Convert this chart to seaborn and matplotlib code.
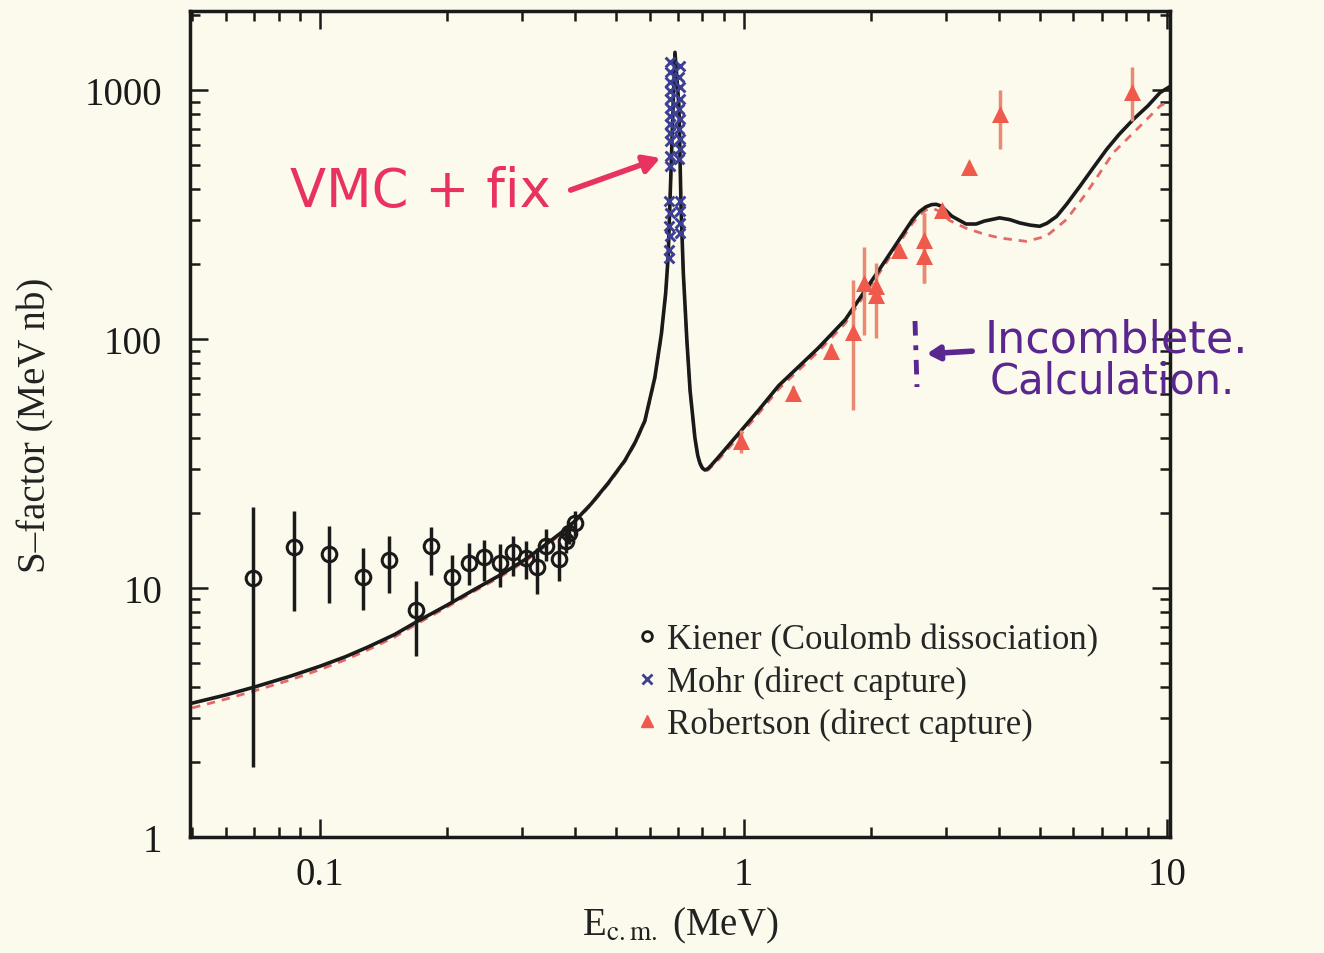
import numpy as np
import seaborn as sns
import matplotlib.pyplot as plt
from matplotlib.lines import Line2D

# theory curves
calc_e = [0.05, 0.06, 0.07, 0.085, 0.10, 0.115, 0.13, 0.15, 0.17, 0.20, 0.23, 0.267, 0.307,
          0.342, 0.38, 0.40, 0.437, 0.48, 0.5245, 0.555, 0.585, 0.6175, 0.64, 0.655,
          0.664, 0.674, 0.682, 0.689, 0.704, 0.712, 0.721, 0.735, 0.748, 0.768, 0.78, 0.789,
          0.80, 0.811, 0.825, 0.84, 0.873, 0.973, 1.085, 1.21, 1.50, 1.74, 2.09, 2.33, 2.505,
          2.60, 2.695, 2.78, 2.85, 2.93, 3.10, 3.35, 3.54, 3.70, 4.02, 4.25, 4.485, 4.75, 5.0,
          5.2, 5.48, 5.8, 6.22, 6.7, 7.19, 7.7, 8.32, 9.0, 9.62, 10.2]
calc_s = [3.45, 3.72, 4.0, 4.42, 4.85, 5.3, 5.8, 6.5, 7.35, 8.55, 9.8, 11.3, 13.1,
          15.0, 17.2, 18.6, 21.8, 26.5, 32.5, 38.5, 47, 70, 105, 153,
          215, 466, 865, 1419, 865, 342, 184, 99, 62, 40, 34, 31.8,
          30.3, 29.8, 30.2, 31.2, 33.6, 41.7, 51.8, 65, 92, 120, 190, 251, 302,
          325, 340, 347, 348, 342, 312, 290, 290, 298, 307, 302, 293, 287, 284,
          292, 311, 350, 411, 490, 578, 665, 764, 865, 979, 1040]

dash_e = [0.05, 0.06, 0.07, 0.085, 0.10, 0.115, 0.13, 0.15, 0.17, 0.20, 0.23, 0.267, 0.307,
          0.342, 0.38, 0.40, 0.437, 0.48, 0.5245, 0.555, 0.585, 0.6175, 0.64, 0.655,
          0.664, 0.674, 0.682, 0.689, 0.704, 0.712, 0.721, 0.735, 0.748, 0.768, 0.78, 0.789,
          0.80, 0.811, 0.825, 0.84, 0.873, 0.973, 1.085, 1.21, 1.50, 1.74, 2.09, 2.33, 2.505,
          2.60, 2.695, 2.80, 2.90, 3.06, 3.35, 3.70, 4.02, 4.65, 5.18, 5.78, 6.45, 7.46, 8.63,
          9.62, 10.2]
dash_s = [3.3, 3.58, 3.86, 4.27, 4.7, 5.15, 5.65, 6.35, 7.2, 8.4, 9.65, 11.1, 12.9,
          14.8, 17.0, 18.4, 21.6, 26.2, 32.2, 38.1, 46.5, 69.3, 104, 151,
          213, 460, 855, 1400, 855, 338, 182, 98, 61.3, 39.5, 33.6, 31.4,
          29.9, 29.4, 29.8, 30.7, 32.8, 40.4, 50.2, 63, 89, 116, 184, 243, 292,
          315, 330, 335, 326, 300, 279, 264, 255, 247, 259, 302, 387, 561, 718,
          865, 910]

# Kiener (Coulomb dissociation)
kiener_e = [0.0694, 0.0869, 0.1054, 0.1265, 0.1457, 0.1686, 0.1834, 0.2052, 0.2251, 0.2443,
            0.2666, 0.2851, 0.3065, 0.3256, 0.342, 0.3678, 0.3814, 0.388, 0.4005]
kiener_s = [11.0, 14.6, 13.7, 11.07, 12.97, 8.2, 14.7, 11.1, 12.65, 13.3,
            12.6, 14.0, 13.2, 12.1, 14.8, 13.1, 15.5, 16.7, 18.2]
kiener_lo = [1.91, 8.07, 8.73, 8.2, 9.57, 5.32, 11.3, 8.87, 10.3, 10.7,
             10.1, 11.2, 10.9, 9.46, 12.9, 10.7, 13.8, 15.0, 16.2]
kiener_hi = [21.1, 20.4, 17.8, 14.5, 16.2, 10.7, 17.6, 13.6, 15.2, 15.6,
             15.0, 16.2, 15.5, 14.5, 17.3, 15.2, 17.3, 18.5, 20.4]

# Mohr (direct capture)
mohr_e = [0.670, 0.669, 0.670, 0.669, 0.670, 0.669, 0.670, 0.669, 0.670, 0.669, 0.670, 0.669,
          0.668, 0.669, 0.668, 0.669, 0.667, 0.668,
          0.707, 0.706, 0.707, 0.707, 0.706, 0.707, 0.706, 0.707, 0.707, 0.706, 0.707, 0.708,
          0.708, 0.709]
mohr_s = [1293, 1178, 1074, 994, 920, 851, 788, 729, 675, 625, 544, 495,
          358, 321, 284, 259, 229, 211,
          1253, 1125, 1026, 920, 838, 764, 696, 634, 578, 527, 358, 326,
          293, 267]

# Robertson (direct capture)
rob_e = [0.985, 1.31, 1.61, 1.81, 1.92, 2.05, 2.05, 2.33, 2.67, 2.67, 2.94, 3.41, 4.04, 8.26]
rob_s = [39, 61, 90, 107, 168, 163, 150, 229, 251, 215, 331, 490, 800, 980]
rob_lo = [35, 58, 85, 52, 104, 101, 140, 220, 168, 168, 320, 480, 578, 752]
rob_hi = [43, 65, 96, 173, 235, 202, 160, 238, 322, 322, 342, 500, 1000, 1235]

legend_labels = ["Kiener (Coulomb dissociation)", "Mohr (direct capture)",
                 "Robertson (direct capture)"]

paper = "#fcfaec"
red = "#f05a4c"
blue = "#3b3f95"

sns.set_theme(style="ticks")
plt.rcParams['font.family'] = ['Liberation Serif', 'DejaVu Serif']
plt.rcParams['mathtext.fontset'] = 'stix'

fig = plt.figure(figsize=(13.24, 9.54), dpi=100, facecolor=paper)
ax = fig.add_axes([0.1435, 0.1216, 0.7402, 0.8658], facecolor=paper)
ax.set_xscale("log")
ax.set_yscale("log")

sns.lineplot(x=dash_e, y=dash_s, ax=ax, color="#e46a6a", lw=2, dashes=(3, 2.5),
             estimator=None, sort=False, zorder=2)
sns.lineplot(x=calc_e, y=calc_s, ax=ax, color="k", lw=2.6, estimator=None, sort=False, zorder=3)

# Kiener points with bars
ax.vlines(kiener_e, kiener_lo, kiener_hi, color="k", lw=2.5, zorder=4)
ax.plot(kiener_e, kiener_s, ls="", marker="o", ms=10.5, mfc="none", mec="k", mew=2.2, zorder=5)

# Robertson bars and triangles
ax.vlines(rob_e, rob_lo, rob_hi, color="#ea8a72", lw=2.5, zorder=4)
sns.scatterplot(x=rob_e, y=rob_s, ax=ax, marker="^", s=150, color=red, edgecolor=red,
                linewidth=0, zorder=5)

# Mohr crosses
sns.scatterplot(x=mohr_e, y=mohr_s, ax=ax, marker="x", s=50, color=blue, linewidth=2.1, zorder=6)

ax.set_xlim(0.0494, 10.15)
ax.set_ylim(1, 2080)
ax.set_xticks([0.1, 1, 10])
ax.set_xticklabels(["0.1", "1", "10"])
ax.set_yticks([1, 10, 100, 1000])
ax.set_yticklabels(["1", "10", "100", "1000"])
ax.tick_params(which="both", direction="in", top=True, right=True, colors="k",
               labelsize=28, width=1.8)
ax.tick_params(which="major", length=13)
ax.tick_params(which="minor", length=7)
ax.tick_params(axis="y", which="major", pad=20)
ax.tick_params(axis="x", which="major", pad=14)
for sp in ax.spines.values():
    sp.set_linewidth(2.5)
    sp.set_color("k")

ax.set_xlabel(r"E$_{\mathrm{c.m.}}$ (MeV)", fontsize=28, labelpad=8, color="#222")
ax.set_ylabel("S\u2013factor (MeV nb)", fontsize=28, labelpad=22, color="#222")

handles = [
    Line2D([], [], ls="", marker="o", ms=7, mfc="none", mec="k", mew=2),
    Line2D([], [], ls="", marker="x", ms=7, mec=blue, mew=2),
    Line2D([], [], ls="", marker="^", ms=8, mfc=red, mec=red),
]
ax.legend(handles, legend_labels, loc="upper left", bbox_to_anchor=(0.47, 0.36),
          bbox_transform=fig.transFigure, frameon=False, fontsize=25,
          handlelength=0.6, handletextpad=0.3, labelspacing=0.25, borderaxespad=0)

# handwritten notes
pink = "#e83260"
purple = "#5a2690"
fig.text(290 / 1324, 1 - 192 / 954, "VMC + fix", color=pink, fontsize=38,
         family="DejaVu Sans", va="center", ha="left")
ax.annotate("", xy=(663 / 1324, 1 - 158 / 954), xytext=(568 / 1324, 1 - 192 / 954),
            xycoords="figure fraction", textcoords="figure fraction",
            arrowprops=dict(arrowstyle="-|>,head_length=0.8,head_width=0.45", color=pink, lw=4))

fig.text(985 / 1324, 1 - 340 / 954, "Incomblete.", color=purple, fontsize=32,
         family="DejaVu Sans", va="center", ha="left")
fig.text(990 / 1324, 1 - 382 / 954, "Calculation.", color=purple, fontsize=30,
         family="DejaVu Sans", va="center", ha="left")
ax.annotate("", xy=(924 / 1324, 1 - 355 / 954), xytext=(975 / 1324, 1 - 352 / 954),
            xycoords="figure fraction", textcoords="figure fraction",
            arrowprops=dict(arrowstyle="-|>,head_length=0.6,head_width=0.35", color=purple, lw=4))
fig.add_artist(Line2D([915 / 1324, 917 / 1324], [1 - 322 / 954, 1 - 388 / 954],
                      transform=fig.transFigure, color=purple, lw=3.5, ls=(0, (3, 2, 1, 2))))

fig.savefig("out.png", dpi=100, facecolor=paper)
